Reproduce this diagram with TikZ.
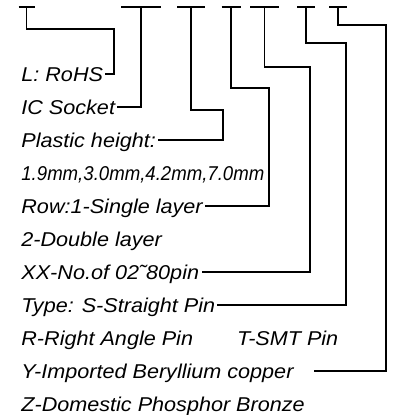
\documentclass[tikz,border=0pt]{standalone}
\usepackage{fontspec}
\setmainfont{Liberation Sans}[FakeStretch=1.08]
\newfontfamily\narrowdigits{Liberation Sans}[FakeStretch=0.93]
\usetikzlibrary{calc}
\tikzset{
	code text/.style={anchor=base west, font=\fontsize{20}{24}\selectfont\itshape,
		inner xsep=2pt, inner ysep=0pt, text height=14pt, text depth=0pt},
	lead/.style={line width=1.2pt}
}

\begin{document}
\begin{tikzpicture}[x=1pt,y=-1pt,thick]
		\useasboundingbox (0,0) rectangle (394,415);
		
		% bars over the code letters
		\foreach \n/\x/\w in {1/26.5/16, 2/141/40, 3/191/28, 4/231/19, 5/264.5/29, 6/306/18, 7/338/18}{
			\coordinate (b\n) at (\x,7);
			\draw[lead] (b\n) ++(-\w/2,0) -- ++(\w,0);
		}
		
		% knees
		\coordinate (k1) at (114,29);
		\coordinate (k3) at (223,110);
		\coordinate (k4) at (269,88);
		\coordinate (k5) at (310,67);
		\coordinate (k6) at (346,43);
		\coordinate (k7) at (386,25);
		
		\node[code text] (rohs) at (19,81) {L: RoHS};
		\node[code text] (socket) at (19,114) {IC Socket};
		\node[code text] (height) at (19,147) {Plastic height:};
		\node[code text] (heightval) at (19,180) {\narrowdigits 1.9mm,3.0mm,4.2mm,7.0mm};
		\node[code text] (row) at (19,213) {Row:1-Single layer};
		\node[code text] (rowtwo) at (19,246) {2-Double layer};
		\node[code text] (pins) at (19,279) {XX-No.of 02˜80pin};
		\node[code text] (type) at (19,312) {Type: S-Straight Pin};
		\node[code text] (typetwo) at (19,345) {R-Right Angle Pin\hspace{44pt}T-SMT Pin};
		\node[code text] (metal) at (19,378) {Y-Imported Beryllium copper};
		\node[code text] (metaltwo) at (19,411) {Z-Domestic Phosphor Bronze};
		
		\draw[lead] (b1) |- (k1) |- (rohs.east);
		\draw[lead] (b2) |- (socket.east);
		\draw[lead] (b3) |- (k3) |- (height.east);
		\draw[lead] (b4) |- (k4) |- (row.east);
		\draw[lead] (b5) |- (k5) |- (pins.east);
		\draw[lead] (b6) |- (k6) |- (type.east);
		\draw[lead] (b7) |- (k7) |- ([xshift=18pt]metal.east);
%		\draw[lead] (b7) |- (k7) |- (metal.east);
	\end{tikzpicture}
\end{document}
